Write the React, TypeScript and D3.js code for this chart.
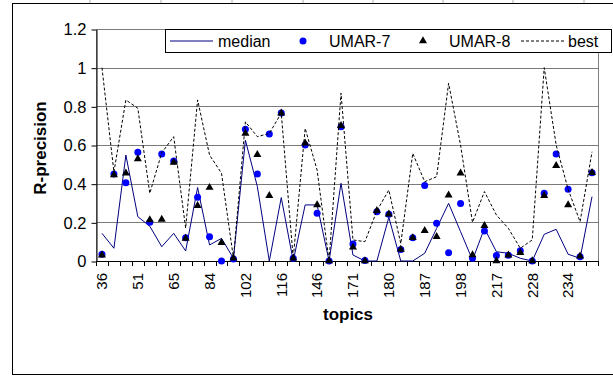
import * as d3 from 'd3';
import { useEffect, useRef } from 'react';

// topics on the x axis (only every 3rd one gets a label)
const topics = [
  '36', '41', '45', '51', '56', '60', '65', '70', '78', '84', '90', '96',
  '102', '107', '111', '116', '127', '139', '146', '155', '163', '171', '174', '177',
  '180', '182', '185', '187', '190', '194', '198', '204', '211', '217', '220', '224',
  '228', '230', '232', '234', '238', '244',
];

const median = [
  0.143, 0.066, 0.548, 0.229, 0.18, 0.074, 0.143, 0.052, 0.38, 0.083, 0.117, 0.014,
  0.625, 0.385, 0.0, 0.328, 0.0, 0.29, 0.29, 0.0, 0.402, 0.031, 0.0, 0.0,
  0.226, 0.0, 0.0, 0.04, 0.169, 0.298, 0.152, 0.005, 0.169, 0.048, 0.04, 0.014,
  0.0, 0.138, 0.164, 0.035, 0.014, 0.333,
];

const umar7 = [
  0.035, 0.45, 0.405, 0.562, 0.2, 0.553, 0.517, 0.12, 0.33, 0.126, 0.0, 0.01,
  0.681, 0.45, 0.657, 0.765, 0.014, 0.6, 0.247, 0.0, 0.695, 0.088, 0.003, 0.255,
  0.242, 0.06, 0.12, 0.39, 0.195, 0.043, 0.298, 0.014, 0.155, 0.028, 0.03, 0.053,
  0.0, 0.35, 0.553, 0.371, 0.022, 0.457,
];

const umar8 = [
  0.03, 0.445, 0.454, 0.528, 0.212, 0.215, 0.51, 0.117, 0.286, 0.38, 0.095, 0.015,
  0.66, 0.55, 0.338, 0.765, 0.014, 0.61, 0.29, 0.0, 0.7, 0.071, 0.0, 0.26,
  0.242, 0.06, 0.12, 0.157, 0.126, 0.341, 0.454, 0.031, 0.183, 0.0, 0.03, 0.043,
  0.0, 0.338, 0.493, 0.29, 0.025, 0.457,
];

const best = [
  1.0, 0.46, 0.833, 0.79, 0.35, 0.56, 0.643, 0.17, 0.833, 0.548, 0.454, 0.015,
  0.72, 0.643, 0.66, 0.765, 0.014, 0.686, 0.47, 0.0, 0.868, 0.109, 0.1, 0.26,
  0.367, 0.09, 0.557, 0.41, 0.436, 0.919, 0.6, 0.2, 0.359, 0.238, 0.169, 0.066,
  0.109, 1.0, 0.6, 0.371, 0.203, 0.565,
];

const yTicks = [0, 0.2, 0.4, 0.6, 0.8, 1, 1.2];

export default function App() {
  const ref = useRef<SVGSVGElement | null>(null);

  const width = 613;
  const height = 376;
  const plot = { left: 96, right: 598, top: 29, bottom: 261 };
  const font = 'Liberation Sans, Arial, sans-serif';

  useEffect(() => {
    const svg = d3.select(ref.current);
    svg.selectAll('*').remove();

    const x = d3.scaleBand<string>().domain(topics).range([plot.left, plot.right]);
    const cx = (i: number) => (x(topics[i]) as number) + x.bandwidth() / 2;
    const y = d3.scaleLinear().domain([0, 1.2]).range([plot.bottom, plot.top]);

    // chart area frame + spreadsheet cell lines above it
    svg.append('rect').attr('width', width).attr('height', height).attr('fill', '#fff');
    [90, 161, 232, 303, 373, 443, 513, 584].forEach((cxl) =>
      svg.append('line')
        .attr('x1', cxl).attr('x2', cxl).attr('y1', 0).attr('y2', 3)
        .attr('stroke', '#b0b0b0'),
    );
    svg.append('rect')
      .attr('x', 12.5).attr('y', 3.5).attr('width', 640).attr('height', 371)
      .attr('fill', '#fff').attr('stroke', '#000').attr('stroke-width', 1);

    // plot area border (grey)
    svg.append('rect')
      .attr('x', plot.left + 0.5).attr('y', plot.top + 0.5)
      .attr('width', plot.right - plot.left).attr('height', plot.bottom - plot.top)
      .attr('fill', 'none').attr('stroke', '#808080');

    // horizontal gridlines
    yTicks.filter((t) => t > 0).forEach((t) =>
      svg.append('line')
        .attr('x1', plot.left).attr('x2', plot.right + 1)
        .attr('y1', Math.round(y(t)) + 0.5).attr('y2', Math.round(y(t)) + 0.5)
        .attr('stroke', '#7a7a7a'),
    );

    // y axis
    const yAxis = d3.axisLeft(y).tickValues(yTicks).tickSize(5).tickSizeOuter(0)
      .tickFormat((d) => String(d));
    const gy = svg.append('g').attr('transform', `translate(${plot.left + 0.5},0.5)`).call(yAxis);
    gy.selectAll('text').attr('font-family', font).attr('font-size', 16.5).attr('fill', '#000').attr('x', -10);
    gy.selectAll('line,path').attr('stroke', '#000');

    // x axis, ticks on category boundaries
    svg.append('line')
      .attr('x1', plot.left).attr('x2', plot.right + 1)
      .attr('y1', plot.bottom + 0.5).attr('y2', plot.bottom + 0.5)
      .attr('stroke', '#000');
    const bounds = topics.map((t) => x(t) as number).concat([plot.right]);
    svg.append('g').selectAll('line').data(bounds).enter().append('line')
      .attr('x1', (d) => Math.round(d) + 0.5).attr('x2', (d) => Math.round(d) + 0.5)
      .attr('y1', plot.bottom).attr('y2', plot.bottom + 5)
      .attr('stroke', '#000');

    svg.append('g').selectAll('text')
      .data(topics.filter((_, i) => i % 3 === 0)).enter().append('text')
      .attr('transform', (d) => `translate(${(x(d) as number) + x.bandwidth() / 2},273) rotate(-90)`)
      .attr('dy', '0.35em')
      .attr('text-anchor', 'end')
      .attr('font-family', font).attr('font-size', 15)
      .text((d) => d);

    // axis titles
    svg.append('text')
      .attr('transform', 'translate(46,148) rotate(-90)')
      .attr('text-anchor', 'middle')
      .attr('font-family', font).attr('font-size', 17).attr('font-weight', 'bold')
      .text('R-precision');
    svg.append('text')
      .attr('x', 348).attr('y', 320)
      .attr('text-anchor', 'middle')
      .attr('font-family', font).attr('font-size', 17).attr('font-weight', 'bold')
      .text('topics');

    // series
    const line = d3.line<number>().x((_, i) => cx(i)).y((d) => y(d));
    svg.append('path').datum(median).attr('d', line)
      .attr('fill', 'none').attr('stroke', '#000080').attr('stroke-width', 1);

    svg.append('g').selectAll('circle').data(umar7).enter().append('circle')
      .attr('cx', (_, i) => cx(i)).attr('cy', (d) => y(d)).attr('r', 3.5)
      .attr('fill', '#0000ff');

    const tri = d3.symbol().type(d3.symbolTriangle).size(28);
    svg.append('g').selectAll('path').data(umar8).enter().append('path')
      .attr('d', tri)
      .attr('transform', (d, i) => `translate(${cx(i)},${y(d)})`)
      .attr('fill', '#000');

    svg.append('path').datum(best).attr('d', line)
      .attr('fill', 'none').attr('stroke', '#000').attr('stroke-width', 1)
      .attr('stroke-dasharray', '3,2');

    // legend
    const lg = svg.append('g');
    lg.append('rect')
      .attr('x', 165.5).attr('y', 29.5).attr('width', 446).attr('height', 23)
      .attr('fill', '#fff').attr('stroke', '#000');
    const ly = 41;
    lg.append('line').attr('x1', 170).attr('x2', 213).attr('y1', ly).attr('y2', ly)
      .attr('stroke', '#000080');
    lg.append('circle').attr('cx', 303).attr('cy', ly).attr('r', 3.5).attr('fill', '#0000ff');
    lg.append('path').attr('d', tri).attr('transform', `translate(423,${ly})`).attr('fill', '#000');
    lg.append('line').attr('x1', 521).attr('x2', 565).attr('y1', ly).attr('y2', ly)
      .attr('stroke', '#000').attr('stroke-dasharray', '3,2');
    [
      { t: 'median', x: 218 },
      { t: 'UMAR-7', x: 329 },
      { t: 'UMAR-8', x: 449 },
      { t: 'best', x: 568 },
    ].forEach((it) =>
      lg.append('text').attr('x', it.x).attr('y', ly).attr('dy', '0.36em')
        .attr('font-family', font).attr('font-size', 16).text(it.t),
    );
  }, []);

  return (
    <svg
      ref={ref}
      width={width}
      height={height}
      style={{ position: 'absolute', left: 0, top: 0, display: 'block' }}
    />
  );
}
